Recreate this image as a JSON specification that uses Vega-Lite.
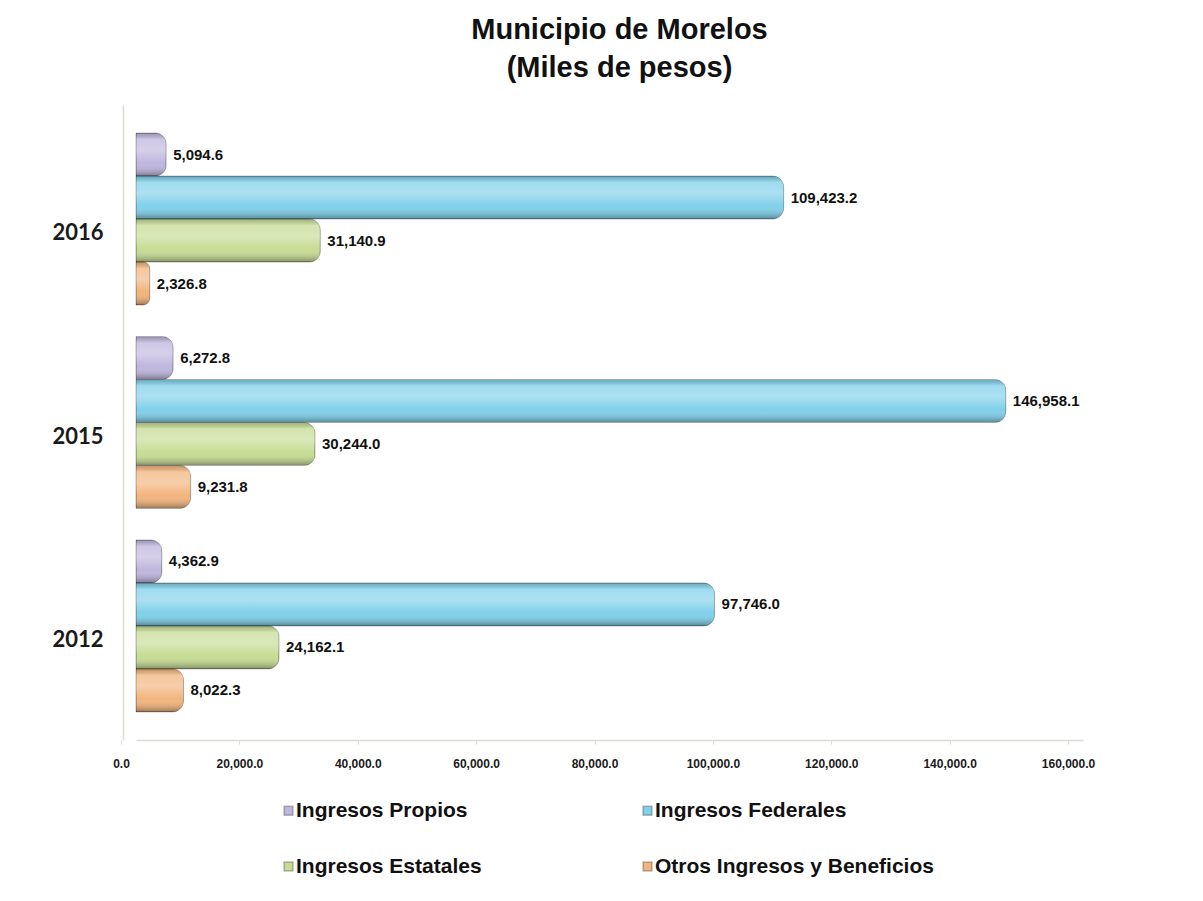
{
  "$schema": "https://vega.github.io/schema/vega-lite/v6.json",
  "autosize": {"type": "none"},
  "padding": {"left": 136, "top": 105, "right": 120, "bottom": 161},
  "width": 947,
  "height": 635,
  "background": "white",
  "config": {"view": {"stroke": null}},
  "title": {
    "text": ["Municipio de Morelos", "(Miles de pesos)"],
    "font": "Liberation Sans, sans-serif",
    "fontSize": 29,
    "fontWeight": "bold",
    "color": "#111111",
    "lineHeight": 38,
    "anchor": "middle",
    "dx": 10,
    "offset": 22
  },
  "data": {
    "values": [
      {"year": "2016", "category": "Ingresos Propios", "value": 5094.6},
      {"year": "2016", "category": "Ingresos Federales", "value": 109423.2},
      {"year": "2016", "category": "Ingresos Estatales", "value": 31140.9},
      {"year": "2016", "category": "Otros Ingresos y Beneficios", "value": 2326.8},
      {"year": "2015", "category": "Ingresos Propios", "value": 6272.8},
      {"year": "2015", "category": "Ingresos Federales", "value": 146958.1},
      {"year": "2015", "category": "Ingresos Estatales", "value": 30244.0},
      {"year": "2015", "category": "Otros Ingresos y Beneficios", "value": 9231.8},
      {"year": "2012", "category": "Ingresos Propios", "value": 4362.9},
      {"year": "2012", "category": "Ingresos Federales", "value": 97746.0},
      {"year": "2012", "category": "Ingresos Estatales", "value": 24162.1},
      {"year": "2012", "category": "Otros Ingresos y Beneficios", "value": 8022.3}
    ]
  },
  "encoding": {
    "y": {
      "field": "year",
      "type": "nominal",
      "sort": ["2016", "2015", "2012"],
      "scale": {"paddingInner": 0.155, "paddingOuter": 0.138},
      "axis": {
        "title": null,
        "ticks": false,
        "domainColor": "#dcdcd2",
        "domainWidth": 1.5,
        "offset": 13,
        "labelPadding": 20,
        "labelOffset": 14,
        "labelFont": "Lato, sans-serif",
        "labelFontSize": 22,
        "labelFontWeight": "bold",
        "labelColor": "#1a1a1a"
      }
    },
    "yOffset": {
      "field": "category",
      "type": "nominal",
      "sort": ["Ingresos Propios", "Ingresos Federales", "Ingresos Estatales", "Otros Ingresos y Beneficios"],
      "scale": {"paddingInner": 0, "paddingOuter": 0}
    },
    "x": {
      "field": "value",
      "type": "quantitative",
      "scale": {"domain": [0, 160000], "nice": false},
      "axis": {
        "title": null,
        "values": [0, 20000, 40000, 60000, 80000, 100000, 120000, 140000, 160000],
        "format": ",.1f",
        "grid": false,
        "labelFlush": false,
        "domainColor": "#dcdcd2",
        "domainWidth": 1.5,
        "tickColor": "#dcdcd2",
        "tickSize": 4,
        "labelOffset": 0,
        "tickOffset": -15,
        "labelPadding": 14,
        "labelFont": "Liberation Sans, sans-serif",
        "labelFontSize": 12,
        "labelFontWeight": "bold",
        "labelColor": "#1a1a1a"
      }
    }
  },
  "layer": [
    {
      "mark": {"type": "bar", "cornerRadiusEnd": 11, "stroke": "#00000040", "strokeWidth": 1},
      "encoding": {
        "color": {
          "field": "category",
          "type": "nominal",
          "scale": {
            "domain": ["Ingresos Propios", "Ingresos Federales", "Ingresos Estatales", "Otros Ingresos y Beneficios"],
            "range": ["#bfb6dd", "#7fd0ea", "#c6dc93", "#f2b47c"]
          },
          "legend": {
            "title": null,
            "orient": "none",
            "direction": "horizontal",
            "columns": 2,
            "legendX": 142,
            "legendY": 695,
            "symbolType": "square",
            "symbolSize": 80,
            "symbolOffset": 0,
            "labelOffset": -3,
            "columnPadding": 155,
            "rowPadding": 34,
            "labelFont": "Liberation Sans, sans-serif",
            "labelFontSize": 21,
            "labelFontWeight": "bold",
            "labelColor": "#111111",
            "labelLimit": 400
          }
        }
      }
    },
    {
      "mark": {
        "type": "bar",
        "cornerRadiusEnd": 11,
        "fill": {
          "gradient": "linear",
          "x1": 0, "y1": 0, "x2": 0, "y2": 1,
          "stops": [
            {"offset": 0, "color": "rgba(0,0,0,0.18)"},
            {"offset": 0.15, "color": "rgba(255,255,255,0.25)"},
            {"offset": 0.4, "color": "rgba(255,255,255,0.35)"},
            {"offset": 0.7, "color": "rgba(255,255,255,0)"},
            {"offset": 1, "color": "rgba(0,0,0,0.35)"}
          ]
        }
      }
    },
    {
      "mark": {
        "type": "text",
        "align": "left",
        "baseline": "middle",
        "dx": 7,
        "font": "Liberation Sans, sans-serif",
        "fontSize": 15,
        "fontWeight": "bold",
        "color": "#111111"
      },
      "encoding": {
        "text": {"field": "value", "type": "quantitative", "format": ",.1f"}
      }
    }
  ]
}
